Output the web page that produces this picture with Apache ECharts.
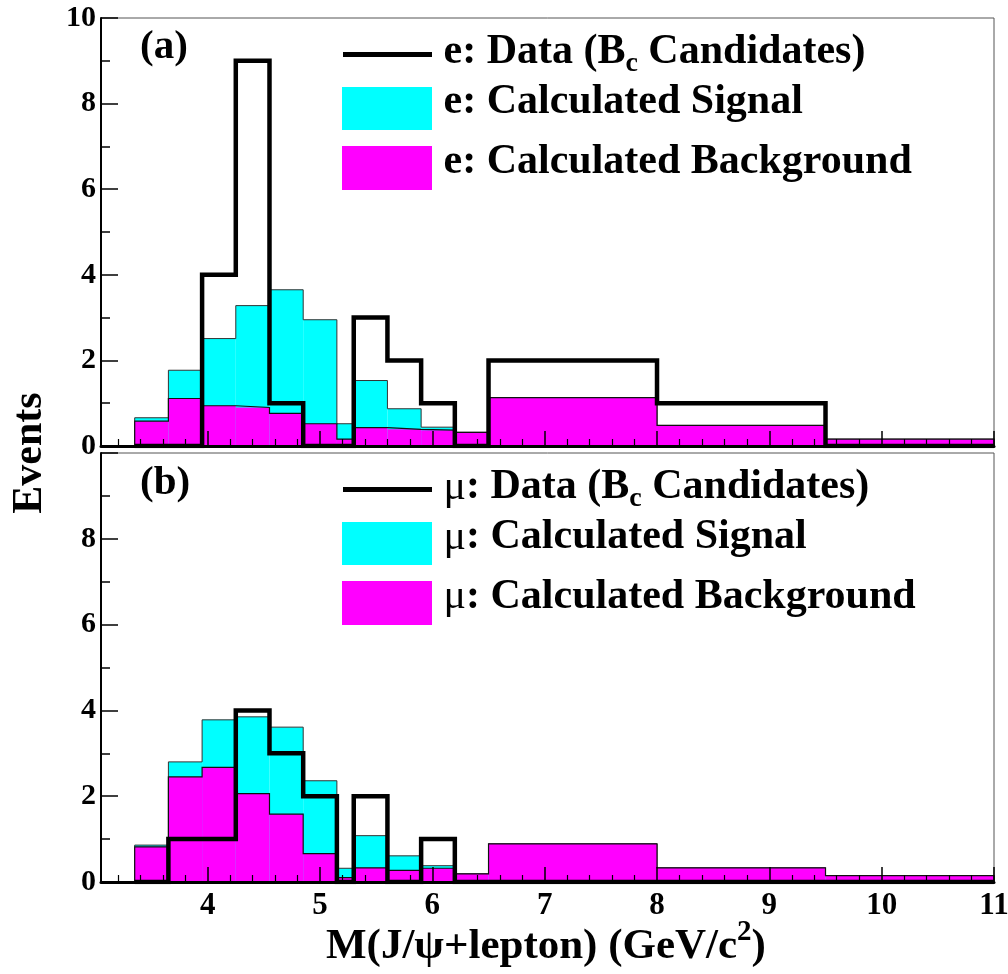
<!DOCTYPE html>
<html><head><meta charset="utf-8">
<script src="https://cdn.jsdelivr.net/npm/echarts@6/dist/echarts.min.js"></script>
<style>html,body{margin:0;padding:0;background:#fff}#c{width:1008px;height:974px}</style>
</head><body><div id="c"></div>
<script>
// ---- data ----
const binEdges = [3.35, 3.65, 3.95, 4.25, 4.55, 4.85, 5.15, 5.3, 5.6, 5.9, 6.2, 6.5, 8, 9.5, 11];
const eData        = [0, 0, 4, 9, 1, 0, 0, 3, 2, 1, 0, 2, 1, 0];
const eSignal      = [0.08, 0.66, 1.57, 2.38, 2.89, 2.43, 0.36, 1.10, 0.48, 0.07, 0, 0, 0, 0];
const eBackground  = [0.58, 1.11, 0.94, 0.90, 0.76, 0.52, 0.16, 0.43, 0.39, 0.37, 0.32, 1.13, 0.48, 0.16];
const muData       = [0, 1, 1, 4, 3, 2, 0, 2, 0, 1, 0, 0, 0, 0];
const muSignal     = [0.04, 0.35, 1.11, 1.79, 2.03, 1.70, 0.22, 0.75, 0.34, 0.06, 0, 0, 0, 0];
const muBackground = [0.82, 2.45, 2.67, 2.06, 1.58, 0.66, 0.10, 0.33, 0.27, 0.32, 0.19, 0.89, 0.33, 0.15];
const xTickLabels = [4, 5, 6, 7, 8, 9, 10, 11];
const yTickLabels = [0, 2, 4, 6, 8, 10];
const xMin = 3.05, xMax = 11;

// ---- helpers ----
const FF = '"Liberation Serif","Times New Roman",serif';
const minorX = [];
for (let k = 16; k <= 55; k++) { const v = k / 5; if (Math.abs(v - Math.round(v)) > 1e-6 && v > xMin) minorX.push(+v.toFixed(2)); }

function rects(vals) { return vals.map((v, i) => [binEdges[i], binEdges[i + 1], v]); }
function outline(vals) {
  const n = vals.length, pts = [[binEdges[0], 0]];
  vals.forEach((v, i) => pts.push([binEdges[i], v]));
  pts.push([binEdges[n], vals[n - 1]]);
  pts.push([binEdges[n], 0]);
  return pts;
}
function dataLine(vals) {
  const n = vals.length, pts = vals.map((v, i) => [binEdges[i], v]);
  pts.push([binEdges[n], vals[n - 1]]);
  return pts;
}
function sum(a, b) { return a.map((v, i) => +(v + b[i]).toFixed(3)); }

function histSeries(g, vals, color, z) {
  return {
    type: 'custom', xAxisIndex: 2 * g, yAxisIndex: g, z: z, silent: true,
    data: rects(vals), encode: { x: [0, 1], y: 2 },
    renderItem(params, api) {
      const p0 = api.coord([api.value(0), api.value(2)]);
      const p1 = api.coord([api.value(1), 0]);
      return { type: 'rect', shape: { x: p0[0], y: p0[1], width: p1[0] - p0[0], height: p1[1] - p0[1] },
               style: { fill: color, stroke: null } };
    }
  };
}
function stepSeries(g, pts, color, width, z) {
  return { type: 'line', xAxisIndex: 2 * g, yAxisIndex: g, z: z, step: 'end', symbol: 'none', silent: true,
           data: pts, lineStyle: { color: color, width: width, join: 'miter', cap: 'butt' } };
}

const mctx = document.createElement('canvas').getContext('2d');
function textRun(parts, x, baseline) {
  const els = []; let cx = x;
  parts.forEach(p => {
    const w = p.weight || 'bold';
    mctx.font = `${w} ${p.size}px ${FF}`;
    const m = mctx.measureText(p.text);
    const mid = (m.fontBoundingBoxAscent - m.fontBoundingBoxDescent) / 2;
    els.push({ type: 'text', x: cx, y: baseline + (p.dy || 0) - mid, z: 100,
      style: { text: p.text, fontFamily: FF, fontSize: p.size, fontWeight: w, fill: '#000', align: 'left', verticalAlign: 'middle' } });
    cx += m.width;
  });
  return els;
}

const LS = 42;
function legendBlock(prefix, dy) {
  const pre = t => prefix === 'μ' ? [{ text: 'μ', size: LS, weight: 'normal' }, { text: t, size: LS }] : [{ text: 'e' + t, size: LS }];
  return [
    { type: 'line', z: 100, shape: { x1: 343, y1: 54.5 + dy, x2: 432, y2: 54.5 + dy }, style: { stroke: '#000', lineWidth: 5 } },
    { type: 'rect', z: 100, shape: { x: 342, y: 87 + dy, width: 90, height: 43 }, style: { fill: '#00ffff' } },
    { type: 'rect', z: 100, shape: { x: 342, y: 146 + dy, width: 90, height: 44 }, style: { fill: '#ff00ff' } },
    ...textRun([...pre(': Data (B'), { text: 'c', size: 28, dy: 7 }, { text: ' Candidates)', size: LS }], 443.5, 66.5 + dy),
    ...textRun([...pre(': Calculated Signal')], 443.5, 116.5 + dy),
    ...textRun([...pre(': Calculated Background')], 443.5, 176 + dy)
  ];
}

const grids = [
  { left: 101, top: 18, width: 893, height: 428 },
  { left: 101, top: 453, width: 893, height: 429 }
].map(g => Object.assign(g, { show: true, borderColor: '#555', borderWidth: 1, backgroundColor: 'transparent', outerBoundsMode: 'none', containLabel: false }));

const xAxes = [], yAxes = [];
[0, 1].forEach(g => {
  xAxes.push({ type: 'value', gridIndex: g, position: 'bottom', min: xMin, max: xMax, z: 10,
    axisLine: { show: true, onZero: false, lineStyle: { color: '#000', width: 3 } },
    axisTick: { show: true, inside: true, length: 15, customValues: xTickLabels, lineStyle: { color: '#000', width: 1.5 } },
    axisLabel: { show: g === 1, customValues: xTickLabels, margin: 8, fontFamily: FF, fontWeight: 'bold', fontSize: 31, color: '#000' },
    splitLine: { show: false } });
  xAxes.push({ type: 'value', gridIndex: g, position: 'bottom', min: xMin, max: xMax, z: 10,
    axisLine: { show: false },
    axisTick: { show: true, inside: true, length: 7, customValues: minorX, lineStyle: { color: '#000', width: 1.2 } },
    axisLabel: { show: false }, splitLine: { show: false } });
  yAxes.push({ type: 'value', gridIndex: g, min: 0, max: 10, interval: 2, z: 10,
    axisLine: { show: true, lineStyle: { color: '#000', width: 2 } },
    axisTick: { show: true, inside: true, length: 17, lineStyle: { color: '#000', width: 1.5 } },
    minorTick: { show: true, splitNumber: 2, length: 9, lineStyle: { color: '#000', width: 1.5 } },
    axisLabel: { margin: 5, fontFamily: FF, fontWeight: 'bold', fontSize: 30, color: '#000',
      formatter: v => (g === 1 && v === yTickLabels[yTickLabels.length - 1]) ? '' : String(v) },
    splitLine: { show: false }, minorSplitLine: { show: false } });
});

const series = [];
[[eData, eSignal, eBackground], [muData, muSignal, muBackground]].forEach(([d, s, b], g) => {
  const tot = sum(s, b);
  series.push(histSeries(g, tot, '#00ffff', 2));
  series.push(stepSeries(g, outline(tot), '#333', 1, 3));
  series.push(histSeries(g, b, '#ff00ff', 4));
  series.push(stepSeries(g, outline(b), '#111', 1.2, 5));
  series.push(stepSeries(g, dataLine(d), '#000', 4.5, 6));
});

const graphic = [
  ...textRun([{ text: '(a)', size: 41 }], 140, 61),
  ...textRun([{ text: '(b)', size: 41 }], 140, 497),
  ...legendBlock('e', 0),
  ...legendBlock('μ', 435),
  ...textRun([{ text: 'M(J/ψ+lepton) (GeV/c', size: 43 }, { text: '2', size: 29, dy: -19 }, { text: ')', size: 43 }], 326, 961.5),
  { type: 'text', x: 30, y: 453, rotation: Math.PI / 2, z: 100,
    style: { text: 'Events', fontFamily: FF, fontSize: 42, fontWeight: 'bold', fill: '#000', align: 'center', verticalAlign: 'middle' } }
];

const chart = echarts.init(document.getElementById('c'), null, { renderer: 'canvas' });
chart.setOption({ animation: false, backgroundColor: '#fff', grid: grids, xAxis: xAxes, yAxis: yAxes, series: series, graphic: graphic });
</script></body></html>
